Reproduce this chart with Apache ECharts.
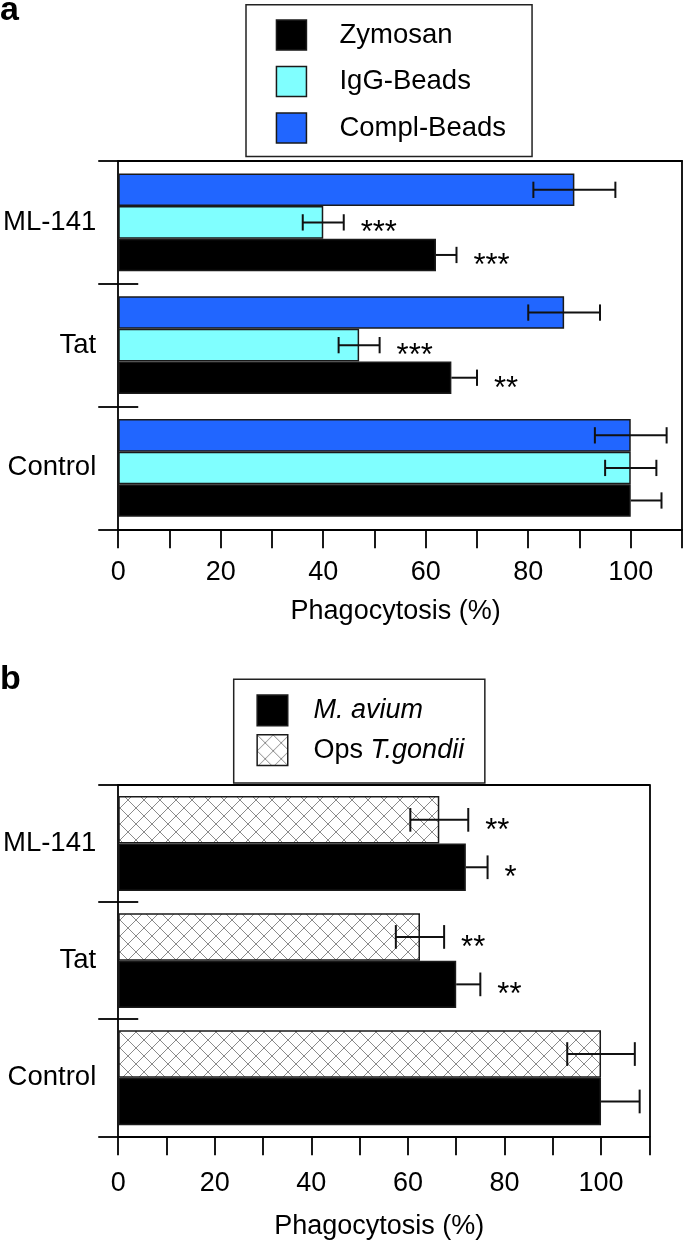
<!DOCTYPE html>
<html><head><meta charset="utf-8">
<script src="https://cdn.jsdelivr.net/npm/echarts@6/dist/echarts.min.js"></script>
<style>html,body{margin:0;padding:0;background:#fff}#c{width:685px;height:1244px}</style>
</head><body><div id="c"></div>
<script>
// ---------- data ----------
const categories = ['Control', 'Tat', 'ML-141'];
const tickLabels = [0, 20, 40, 60, 80, 100];
// panel a
const zymosan = [100, 65, 62];
const zymosanErr = [6, 5, 4];
const zymosanSig = ['', '**', '***'];
const igg = [100, 47, 40];
const iggErr = [5, 4, 4];
const iggSig = ['', '***', '***'];
const compl = [100, 87, 89];
const complErr = [7, 7, 8];
const complSig = ['', '', ''];
// panel b
const mavium = [100, 70, 72];
const maviumErr = [8, 5, 4.5];
const maviumSig = ['', '**', '*'];
const tgondii = [100, 62.5, 66.5];
const tgondiiErr = [7, 5, 6];
const tgondiiSig = ['', '**', '**'];

// ---------- styling ----------
const FONT = 'Liberation Sans, Arial, Helvetica, sans-serif';
const AX = {color: '#000', width: 1.8};
const GAP_A = 0.204, GAP_B = 0.19;

function hatch() {
  const c = document.createElement('canvas');
  c.width = 16; c.height = 16;
  const g = c.getContext('2d');
  g.fillStyle = '#fff'; g.fillRect(0, 0, 16, 16);
  g.strokeStyle = '#8a8a8a'; g.lineWidth = 1;
  g.beginPath();
  g.moveTo(0, 0); g.lineTo(16, 16);
  g.moveTo(16, 0); g.lineTo(0, 16);
  g.stroke();
  return c;
}

function barSeries(name, data, color, xi, yi, gap) {
  return {
    name, type: 'bar', data, xAxisIndex: xi, yAxisIndex: yi,
    barCategoryGap: (gap * 100) + '%', barGap: '0%',
    itemStyle: {color, borderColor: '#1a1a1a', borderWidth: 1.5},
    silent: true, z: 2
  };
}

// k: 0 = top bar within group; half: draw only the upper (right) half
function errSeries(vals, errs, sigs, k, n, gap, xi, yi, half) {
  return {
    type: 'custom', xAxisIndex: xi, yAxisIndex: yi, z: 10, silent: true,
    data: vals.map((v, i) => [v, i, errs[i]]),
    encode: {x: 0, y: 1},
    renderItem(params, api) {
      const v = api.value(0), i = api.value(1), e = api.value(2);
      const c = api.coord([v, i]);
      const band = api.size([0, 1])[1];
      const groupW = band * (1 - gap);
      const barH = groupW / n;
      const y = c[1] - groupW / 2 + (k + 0.5) * barH;
      const x0 = half ? c[0] : api.coord([v - e, i])[0];
      const x1 = api.coord([v + e, i])[0];
      const cap = barH / 2;
      const st = {stroke: '#111', lineWidth: 2};
      const ch = [
        {type: 'line', shape: {x1: x0, y1: y, x2: x1, y2: y}, style: st},
        {type: 'line', shape: {x1: x1, y1: y - cap / 2, x2: x1, y2: y + cap / 2}, style: st}
      ];
      if (!half) ch.push({type: 'line', shape: {x1: x0, y1: y - cap / 2, x2: x0, y2: y + cap / 2}, style: st});
      const s = sigs[params.dataIndex];
      if (s) ch.push({type: 'text', x: x1 + 17, y: y + 11.5,
        style: {text: s, fontSize: 31, fontFamily: FONT, fill: '#000', align: 'left', verticalAlign: 'middle'}});
      return {type: 'group', children: ch};
    }
  };
}

function xAxes(grid, max, labelMargin, nameGap) {
  return [{
    gridIndex: grid, type: 'value', min: 0, max: max, interval: 10, position: 'bottom',
    axisLine: {show: true, onZero: false, lineStyle: AX},
    axisTick: {show: true, length: 19, lineStyle: AX},
    axisLabel: {formatter: v => tickLabels.includes(v) ? String(v) : '', fontSize: 27, lineHeight: 27,
      margin: labelMargin, color: '#000', fontFamily: FONT},
    splitLine: {show: false},
    name: 'Phagocytosis (%)', nameLocation: 'middle', nameGap: nameGap,
    nameTextStyle: {fontSize: 27, lineHeight: 27, color: '#000', fontFamily: FONT, padding: [0, 9, 0, 0]}
  }, {
    gridIndex: grid, type: 'value', min: 0, max: max, position: 'top',
    axisLine: {show: true, onZero: false, lineStyle: AX},
    axisTick: {show: false}, axisLabel: {show: false}, splitLine: {show: false}
  }];
}
function yAxes(grid) {
  return [{
    gridIndex: grid, type: 'category', data: categories, position: 'left',
    axisLine: {show: true, onZero: false, lineStyle: AX},
    axisTick: {show: true, length: 20, lineStyle: AX},
    axisLabel: {fontSize: 27.5, color: '#000', margin: 22, fontFamily: FONT}
  }, {
    gridIndex: grid, type: 'category', data: categories, position: 'left',
    axisLine: {show: false},
    axisTick: {show: true, inside: true, length: 20, lineStyle: AX},
    axisLabel: {show: false}
  }, {
    gridIndex: grid, type: 'category', data: categories, position: 'right',
    axisLine: {show: true, onZero: false, lineStyle: AX},
    axisTick: {show: false}, axisLabel: {show: false}
  }];
}

const pattern = {image: hatch(), repeat: 'repeat'};
const BLUE = '#2166ff', CYAN = '#80ffff', BLACK = '#000';

const chart = echarts.init(document.getElementById('c'), null, {renderer: 'canvas'});
chart.setOption({
  animation: false,
  backgroundColor: '#fff',
  textStyle: {fontFamily: FONT},
  grid: [
    {left: 115, right: 1, top: 161, height: 368.3},
    {left: 115, right: 35.7, top: 785, height: 351.3}
  ],
  xAxis: [...xAxes(0, 110, 29.5, 69), ...xAxes(1, 110, 33.5, 77)],
  yAxis: [...yAxes(0), ...yAxes(1)],
  legend: [{
    orient: 'vertical', left: 246, top: 4.7, padding: [14.6, 26, 12.7, 29.7],
    itemWidth: 30, itemHeight: 30, itemGap: 15, icon: 'rect',
    borderColor: '#222', borderWidth: 1.5,
    data: ['Zymosan', 'IgG-Beads', 'Compl-Beads'],
    textStyle: {fontSize: 27.5, lineHeight: 30, color: '#000', fontFamily: FONT, padding: [0, 0, 0, 28]},
    itemStyle: {borderColor: '#1a1a1a', borderWidth: 1.5}
  }, {
    orient: 'vertical', left: 233.7, top: 679.3, padding: [15, 20.7, 16.7, 22.7],
    itemWidth: 30.6, itemHeight: 30.6, itemGap: 7.7, icon: 'rect',
    borderColor: '#222', borderWidth: 1.5,
    data: ['M. avium', 'Ops T.gondii'],
    formatter: n => n === 'M. avium' ? '{i|M. avium}' : 'Ops {i|T.gondii}',
    textStyle: {fontSize: 27, lineHeight: 31, color: '#000', fontFamily: FONT, padding: [0, 0, 0, 20.8],
      rich: {i: {fontStyle: 'italic', fontSize: 27, fontFamily: FONT, color: '#000'}}},
    itemStyle: {borderColor: '#1a1a1a', borderWidth: 1.5}
  }],
  graphic: [
    {type: 'text', left: 0, top: -6, style: {text: 'a', fontSize: 34, fontWeight: 'bold', fontFamily: FONT, fill: '#000'}},
    {type: 'text', left: 0, top: 663, style: {text: 'b', fontSize: 34, fontWeight: 'bold', fontFamily: FONT, fill: '#000'}}
  ],
  series: [
    barSeries('Compl-Beads', compl, BLUE, 0, 0, GAP_A),
    barSeries('IgG-Beads', igg, CYAN, 0, 0, GAP_A),
    barSeries('Zymosan', zymosan, BLACK, 0, 0, GAP_A),
    errSeries(compl, complErr, complSig, 0, 3, GAP_A, 0, 0, false),
    errSeries(igg, iggErr, iggSig, 1, 3, GAP_A, 0, 0, false),
    errSeries(zymosan, zymosanErr, zymosanSig, 2, 3, GAP_A, 0, 0, true),
    barSeries('Ops T.gondii', tgondii, pattern, 2, 3, GAP_B),
    barSeries('M. avium', mavium, BLACK, 2, 3, GAP_B),
    errSeries(tgondii, tgondiiErr, tgondiiSig, 0, 2, GAP_B, 2, 3, false),
    errSeries(mavium, maviumErr, maviumSig, 1, 2, GAP_B, 2, 3, true)
  ]
});
</script>
</body></html>
